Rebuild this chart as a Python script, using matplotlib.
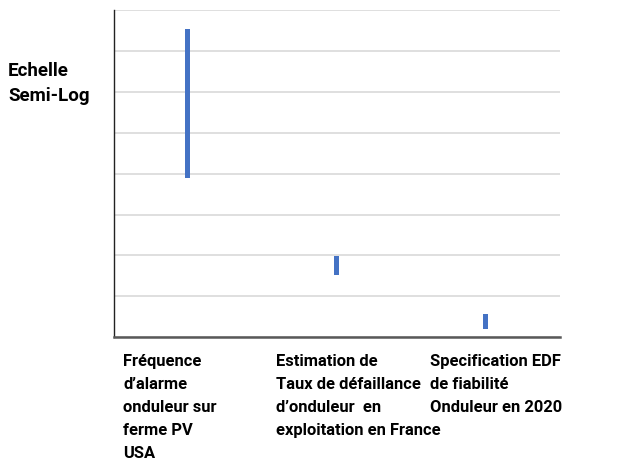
import numpy as np
import matplotlib.pyplot as plt

# categories and ranges (log10 of values, arbitrary decades on a semi-log axis)
categories = [
    "Fréquence\nd’alarme\nonduleur sur\nferme PV\nUSA",
    "Estimation de\nTaux de défaillance\nd’onduleur  en\nexploitation en France",
    "Specification EDF\nde fiabilité\nOnduleur en 2020",
]
range_low = [10**3.89, 10**1.52, 10**0.20]
range_high = [10**7.55, 10**1.98, 10**0.56]

fig = plt.figure(figsize=(6.23, 4.61), dpi=100)
ax = fig.add_axes([113.5 / 623, 1 - 337 / 461, (560 - 113.5) / 623, (337 - 10.5) / 461])

x = np.arange(len(categories))
low = np.array(range_low)
high = np.array(range_high)
ax.bar(x, high - low, bottom=low, width=0.034, color="#4472C4", zorder=3)

ax.set_yscale("log")
ax.set_ylim(1, 1e8)
ax.set_xlim(-0.5, 2.5)
ax.set_yticks([10**k for k in range(9)])
ax.minorticks_off()
ax.yaxis.grid(True, color="#d9d9d9", linewidth=1.2)
ax.tick_params(left=False, bottom=False, labelleft=False, labelbottom=False)
ax.set_xticks([])

for side in ["top", "right"]:
    ax.spines[side].set_visible(False)
ax.spines["left"].set_color("#222222")
ax.spines["left"].set_linewidth(1.0)
ax.spines["bottom"].set_color("#595959")
ax.spines["bottom"].set_linewidth(1.8)

label_x = [123, 276, 430]
for lx, lab in zip(label_x, categories):
    fig.text(lx / 623, 1 - 354 / 461, lab, ha="left", va="top",
             linespacing=1.66, family="Roboto", weight="bold", size=11.9)

fig.text(8 / 623, 1 - 62 / 461, "Echelle\nSemi-Log", ha="left", va="top",
         linespacing=1.5, family="Roboto", weight="bold", size=13.5)

fig.savefig("out.png", dpi=100)
